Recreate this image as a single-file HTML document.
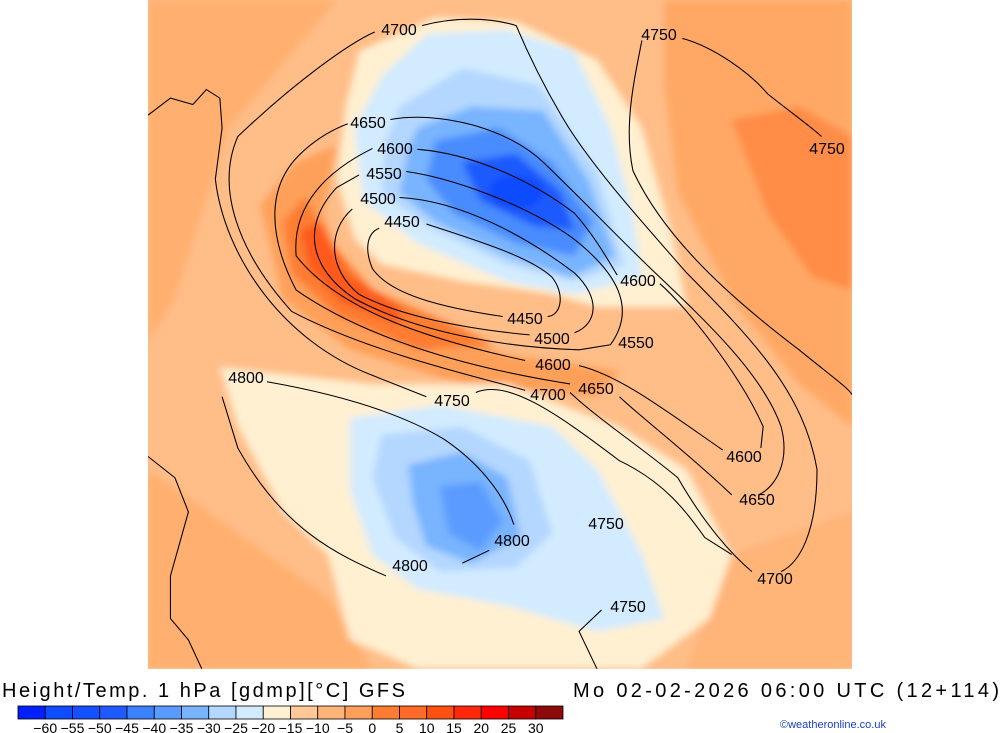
<!DOCTYPE html>
<html><head><meta charset="utf-8"><style>
html,body{margin:0;padding:0;background:#fff;width:1000px;height:733px;overflow:hidden;font-family:"Liberation Sans",sans-serif}
svg{display:block}
</style></head><body>
<svg width="1000" height="733" viewBox="0 0 1000 733">
<defs>
<clipPath id="mc"><rect x="0" y="0" width="1568" height="1568"/></clipPath>
<filter id="bl" x="-10%" y="-10%" width="120%" height="120%"><feGaussianBlur stdDeviation="8"/></filter>
</defs>
<g transform="translate(148,0) scale(0.449,0.4266)" clip-path="url(#mc)">
<rect width="1568" height="1568" fill="#ffbd88"/>
<g filter="url(#bl)">
<path d="M0,0 L420,0 L300,150 L180,300 L120,500 L60,700 L0,800 Z" fill="#ffb070"/>
<path d="M1150,0 L1568,0 L1568,1000 L1450,900 L1300,700 L1180,450 L1150,200 Z" fill="#ffa865"/>
<path d="M1300,280 L1450,250 L1568,320 L1568,680 L1480,650 L1380,500 Z" fill="#ff8c46"/>
<path d="M0,1100 L200,1250 L400,1400 L500,1568 L0,1568 Z" fill="#ffb070"/>
<path d="M1300,1300 L1568,1200 L1568,1568 L1200,1568 Z" fill="#ffb478"/>
<path d="M250,480 L330,380 L420,340 L390,500 L440,650 L600,760 L800,830 L1050,870 L1000,930 L700,900 L450,820 L300,700 Z" fill="#ffa05a"/>
<path d="M300,520 L350,460 L400,560 L500,680 L700,770 L770,810 L600,820 L420,740 L320,640 Z" fill="#ff7d32"/>
<path d="M340,540 L385,520 L440,640 L560,720 L560,760 L430,710 L360,630 Z" fill="#ff5a1e"/>
<path d="M470,120 L640,40 L820,50 L1000,140 L1100,300 L1170,560 L1200,720 L1000,720 L900,690 L700,660 L520,620 L460,560 L420,420 L440,250 Z" fill="#fff0d2"/>
<path d="M160,860 L500,900 L800,900 L1050,1000 L1200,1100 L1300,1300 L1250,1450 L1100,1568 L600,1568 L450,1500 L400,1300 L300,1200 L200,1000 Z" fill="#fff0d2"/>
<path d="M520,180 L620,80 L800,70 L950,120 L1030,300 L1080,500 L1100,650 L950,690 L800,660 L600,570 L480,470 L460,300 Z" fill="#d2ebff"/>
<path d="M560,250 L700,160 L870,200 L1000,400 L1060,620 L950,660 L800,620 L620,530 L520,450 L530,330 Z" fill="#b4d7ff"/>
<path d="M600,300 L720,250 L880,260 L980,420 L1040,600 L940,650 L800,600 L640,520 L560,450 L580,350 Z" fill="#78b4ff"/>
<path d="M640,330 L780,300 L900,380 L990,520 L950,600 L820,570 L680,500 L620,420 Z" fill="#4a8cff"/>
<path d="M700,380 L820,360 L920,450 L950,540 L860,530 L740,470 Z" fill="#1e5aff"/>
<ellipse cx="820" cy="450" rx="60" ry="40" fill="#0f4cff"/>
<path d="M450,980 L650,950 L900,1000 L1000,1100 L1100,1300 L1150,1450 L1000,1480 L800,1420 L600,1380 L500,1300 L450,1150 Z" fill="#d2ebff"/>
<path d="M520,1020 L700,1000 L850,1080 L900,1250 L820,1330 L650,1340 L550,1260 L500,1120 Z" fill="#b4d7ff"/>
<path d="M580,1090 L700,1060 L800,1120 L830,1260 L720,1320 L620,1280 L590,1180 Z" fill="#78b4ff"/>
<path d="M650,1140 L740,1130 L790,1220 L740,1290 L670,1250 Z" fill="#5a9bff"/>
</g>
<g fill="none" stroke="#000" stroke-width="2.4">
<path d="M620,525 C720,560 850,600 900,650 C930,690 920,740 890,742 M790,742 C650,720 540,690 500,630 C480,580 490,545 515,535"/>
<path d="M560,463 C700,470 850,560 950,640 C1010,700 1000,760 950,780 M850,785 C700,770 560,740 470,690 C400,630 400,540 455,490"/>
<path d="M575,402 C700,420 880,500 960,570 C1040,640 1090,720 1030,808 M1030,808 L960,820 C800,815 600,780 460,700 C360,630 340,530 420,440 L470,410"/>
<path d="M600,350 C720,360 850,420 950,500 C1000,560 1030,620 1045,645 M1140,665 C1200,720 1320,880 1370,1000 L1365,1050 M1280,1055 C1150,960 1050,880 960,857 M840,845 C600,790 420,720 330,600 C320,480 400,400 500,348"/>
<path d="M540,280 C650,260 800,300 880,380 C960,460 1050,560 1130,640 C1250,760 1370,880 1410,1000 C1430,1080 1400,1140 1360,1160 M1300,1160 C1200,1060 1100,980 1050,930 M940,900 C700,860 480,790 330,680 C270,560 260,440 340,360 C380,320 420,300 445,290"/>
<path d="M610,60 C680,40 760,40 820,60 C840,110 870,180 920,270 C980,380 1100,520 1200,640 C1350,800 1460,920 1490,1100 C1490,1250 1450,1320 1410,1340 M1345,1340 C1300,1300 1240,1230 1180,1120 C1100,1050 1000,980 940,920 M840,915 C760,890 500,830 320,730 C200,590 150,440 200,320 C330,190 450,100 505,75"/>
<path d="M1190,90 C1260,110 1340,170 1380,220 C1440,270 1480,300 1500,320 M1100,95 C1080,200 1060,300 1080,400 C1150,560 1300,700 1450,820 C1520,880 1560,910 1568,925"/>
<path d="M0,270 L50,230 L100,245 L130,210 L160,230 L165,300 L150,420 C170,600 300,800 500,880 L620,930 M730,920 C800,890 900,960 1050,1080 C1150,1130 1200,1200 1240,1260 L1300,1300"/>
<path d="M265,895 C400,920 550,960 660,1030 C730,1080 790,1150 815,1230 M760,1290 L700,1320 M530,1350 C420,1300 300,1240 200,1050 L165,930"/>
<path d="M0,1070 L60,1120 L90,1200 L50,1350 L50,1450 L90,1500 L120,1568"/>
<path d="M1000,1568 L960,1480 L1010,1430"/>
</g>
</g>
<g font-size="16" fill="#000" text-anchor="middle">
<text x="399" y="35">4700</text><text x="659" y="40">4750</text>
<text x="368" y="128">4650</text><text x="395" y="154">4600</text>
<text x="384" y="179">4550</text><text x="378" y="204">4500</text>
<text x="402" y="227">4450</text><text x="827" y="154">4750</text>
<text x="638" y="286">4600</text><text x="525" y="324">4450</text>
<text x="552" y="344">4500</text><text x="636" y="348">4550</text>
<text x="553" y="370">4600</text><text x="596" y="394">4650</text>
<text x="548" y="400">4700</text><text x="452" y="406">4750</text>
<text x="246" y="383">4800</text><text x="744" y="462">4600</text>
<text x="757" y="505">4650</text><text x="606" y="529">4750</text>
<text x="512" y="546">4800</text><text x="410" y="571">4800</text>
<text x="775" y="584">4700</text><text x="628" y="612">4750</text>
</g>
<text x="2" y="697" font-size="20" textLength="403">Height/Temp. 1 hPa [gdmp][°C] GFS</text>
<text x="573" y="697" font-size="20" textLength="426">Mo 02-02-2026 06:00 UTC (12+114)</text>
<g id="cb"></g>
<text x="780" y="728" font-size="11" fill="#1a3fbf">©weatheronline.co.uk</text>
</svg>
<script>
const cbColors=["#0020ff","#0f4cff","#1450ff","#1e5aff","#3c82ff","#5a9bff","#78b4ff","#b4d7ff","#d2ebff","#fff0d2","#ffc896","#ffb478","#ffa05a","#ff7d32","#ff6a28","#ff5014","#ff280a","#ff0000","#c80000","#8c0a0a"];
const cbLabels=["−60","−55","−50","−45","−40","−35","−30","−25","−20","−15","−10","−5","0","5","10","15","20","25","30"];
const g=document.getElementById('cb');const ns="http://www.w3.org/2000/svg";
const x0=18,w=(563-18)/cbColors.length;
cbColors.forEach((c,i)=>{const r=document.createElementNS(ns,'rect');
r.setAttribute('x',x0+i*w);r.setAttribute('y',706);r.setAttribute('width',w);r.setAttribute('height',13);
r.setAttribute('fill',c);r.setAttribute('stroke','#000');r.setAttribute('stroke-width','0.8');


g.appendChild(r);});
cbLabels.forEach((l,i)=>{const t=document.createElementNS(ns,'text');
t.setAttribute('x',x0+(i+1)*w);t.setAttribute('y',733);t.setAttribute('font-size','14');t.setAttribute('text-anchor','middle');
t.textContent=l;


g.appendChild(t);});
</script>
</body></html>
